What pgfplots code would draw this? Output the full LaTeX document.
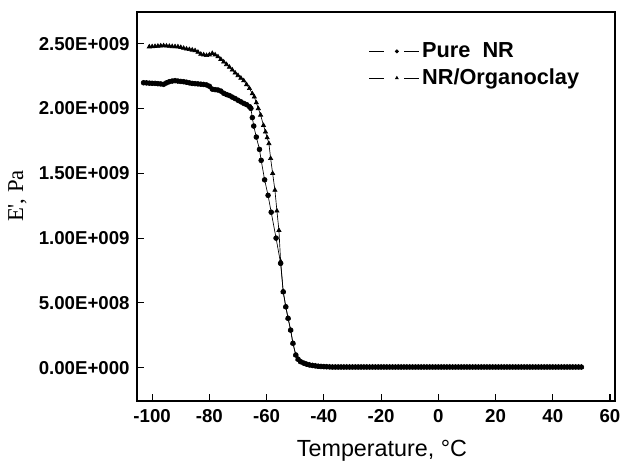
\documentclass[border=0pt]{standalone}
\usepackage{fontspec}
\setmainfont{Liberation Sans}
\newfontfamily\seriffont{Liberation Serif}
\usepackage{pgfplots}
\usepackage{pgfplotstable}
\pgfplotsset{compat=1.18}

% E' in units of 1E+009 Pa
\pgfplotstableread{
T E
-103 2.199
-102 2.198
-101 2.196
-100 2.195
-99 2.194
-98 2.192
-97 2.190
-96 2.187
-95 2.198
-94 2.207
-93 2.212
-92 2.215
-91 2.212
-90 2.209
-89 2.207
-88 2.203
-87 2.198
-86 2.194
-85 2.192
-84 2.190
-83 2.188
-82 2.186
-81 2.182
-80 2.172
-79 2.150
-78 2.146
-77 2.143
-76 2.135
-75 2.118
-74 2.108
-73 2.100
-72 2.088
-71 2.077
-70 2.064
-69 2.052
-68 2.040
-67 2.030
-66 2.015
-65.5 2.001
-65 1.930
-64.5 1.865
-63.6 1.780
-62.5 1.685
-61.9 1.600
-60.7 1.450
-59.5 1.330
-58.4 1.200
-56.7 1.000
-55.1 0.805
-54.2 0.586
-53.3 0.470
-52.5 0.381
-51.6 0.290
-50.8 0.188
-49.8 0.098
-49 0.065
-48.1 0.046
-47 0.035
-46 0.027
-45 0.021
-44 0.017
-43 0.014
-42 0.011
-41 0.009
-40 0.008
-39 0.007
-38 0.006
-37 0.005
-36 0.005
-35 0.005
-34 0.005
-33 0.005
-32 0.005
-31 0.005
-30 0.005
-29 0.005
-28 0.005
-27 0.005
-26 0.005
-25 0.005
-24 0.005
-23 0.005
-22 0.005
-21 0.005
-20 0.005
-19 0.005
-18 0.005
-17 0.005
-16 0.005
-15 0.005
-14 0.005
-13 0.005
-12 0.005
-11 0.005
-10 0.005
-9 0.005
-8 0.005
-7 0.005
-6 0.005
-5 0.005
-4 0.005
-3 0.005
-2 0.005
-1 0.005
0 0.005
1 0.005
2 0.005
3 0.005
4 0.005
5 0.005
6 0.005
7 0.005
8 0.005
9 0.005
10 0.005
11 0.005
12 0.005
13 0.005
14 0.005
15 0.005
16 0.005
17 0.005
18 0.005
19 0.005
20 0.005
21 0.005
22 0.005
23 0.005
24 0.005
25 0.005
26 0.005
27 0.005
28 0.005
29 0.005
30 0.005
31 0.005
32 0.005
33 0.005
34 0.005
35 0.005
36 0.005
37 0.005
38 0.005
39 0.005
40 0.005
41 0.005
42 0.005
43 0.005
44 0.005
45 0.005
46 0.005
47 0.005
48 0.005
49 0.005
50 0.005
}\pureNR

\pgfplotstableread{
T E
-101 2.477
-100 2.478
-99 2.480
-98 2.482
-97 2.484
-96 2.485
-95 2.483
-94 2.481
-93 2.479
-92 2.478
-91 2.477
-90 2.472
-89 2.466
-88 2.460
-87 2.456
-86 2.452
-85 2.447
-84 2.435
-83 2.420
-82 2.415
-81 2.410
-80 2.415
-79 2.426
-78 2.415
-77 2.400
-76 2.380
-75 2.360
-74 2.340
-73 2.320
-72 2.298
-71 2.275
-70 2.255
-69 2.235
-68 2.215
-67 2.185
-66 2.155
-65 2.115
-64.3 2.090
-63.6 2.045
-62.9 2.000
-62.1 1.950
-61.1 1.870
-60.4 1.820
-59.8 1.775
-59.2 1.730
-58.6 1.615
-57.9 1.500
-57.1 1.370
-56.4 1.210
-55.7 1.060
-55.1 0.820
-54.2 0.586
-53.3 0.470
-52.5 0.381
-51.6 0.290
-50.8 0.188
-49.8 0.098
-49 0.065
-48.1 0.046
-47 0.035
-46 0.027
-45 0.021
-44 0.017
-43 0.014
-42 0.011
-41 0.009
-40 0.008
-39 0.007
-38 0.006
-37 0.005
-36 0.005
-35 0.005
-34 0.005
-33 0.005
-32 0.005
-31 0.005
-30 0.005
-29 0.005
-28 0.005
-27 0.005
-26 0.005
-25 0.005
-24 0.005
-23 0.005
-22 0.005
-21 0.005
-20 0.005
-19 0.005
-18 0.005
-17 0.005
-16 0.005
-15 0.005
-14 0.005
-13 0.005
-12 0.005
-11 0.005
-10 0.005
-9 0.005
-8 0.005
-7 0.005
-6 0.005
-5 0.005
-4 0.005
-3 0.005
-2 0.005
-1 0.005
0 0.005
1 0.005
2 0.005
3 0.005
4 0.005
5 0.005
6 0.005
7 0.005
8 0.005
9 0.005
10 0.005
11 0.005
12 0.005
13 0.005
14 0.005
15 0.005
16 0.005
17 0.005
18 0.005
19 0.005
20 0.005
21 0.005
22 0.005
23 0.005
24 0.005
25 0.005
26 0.005
27 0.005
28 0.005
29 0.005
30 0.005
31 0.005
32 0.005
33 0.005
34 0.005
35 0.005
36 0.005
37 0.005
38 0.005
39 0.005
40 0.005
41 0.005
42 0.005
43 0.005
44 0.005
45 0.005
46 0.005
47 0.005
48 0.005
49 0.005
50 0.005
}\organo

\begin{document}
\begin{tikzpicture}
\path[use as bounding box] (0,0) rectangle (466.5pt,345.75pt);
\begin{axis}[
  at={(102.75pt,45pt)}, anchor=south west,
  scale only axis, width=358.5pt, height=291.75pt,
  xmin=-105.3, xmax=61.75,
  ymin=-0.257, ymax=2.745,
  axis line style={line width=1pt},
  tick style={black, line width=0.8pt},
  major tick length=5.5pt,
  tick pos=left, tick align=inside,
  xtick={-100,-80,-60,-40,-20,0,20,40,60},
  xticklabels={-100,-80,-60,-40,-20,0,20,40,60},
  ytick={0,0.5,1,1.5,2,2.5},
  yticklabels={0.00E+000,5.00E+008,1.00E+009,1.50E+009,2.00E+009,2.50E+009},
  ticklabel style={font=\fontsize{14}{14}\selectfont\bfseries},
  xticklabel style={yshift=-2.5pt},
  yticklabel style={xshift=-2pt},
  xlabel={Temperature, °C},
  xlabel style={font=\fontsize{17.5}{17.5}\selectfont, at={(axis description cs:0.5125,-0.1414)}, anchor=base},
  ylabel={E', Pa},
  ylabel style={font=\fontsize{17}{17}\selectfont\seriffont, at={(axis description cs:-0.25,0.527)}, anchor=center},
  legend style={draw=none, fill=none, at={(0.476,0.935)}, anchor=north west,
    font=\fontsize{16.3}{16.3}\selectfont\bfseries, row sep=3pt,
    legend cell align=left},
  legend image code/.code={
    \draw[#1] (0pt,0pt) -- (11.25pt,0pt);
    \draw[#1] (26.25pt,0pt) -- (37.5pt,0pt);
    \draw[#1,only marks,mark size=1.2pt] plot coordinates {(20.8pt,0pt)};
  },
]
\addplot[black, line width=0.5pt, mark=*, mark size=1.8pt] table[x=T,y=E] {\pureNR};
\addlegendentry{Pure~~NR}
\addplot[black, line width=0.5pt, mark=triangle*, mark size=1.8pt] table[x=T,y=E] {\organo};
\addlegendentry{NR/Organoclay}
\end{axis}
\end{tikzpicture}
\end{document}
